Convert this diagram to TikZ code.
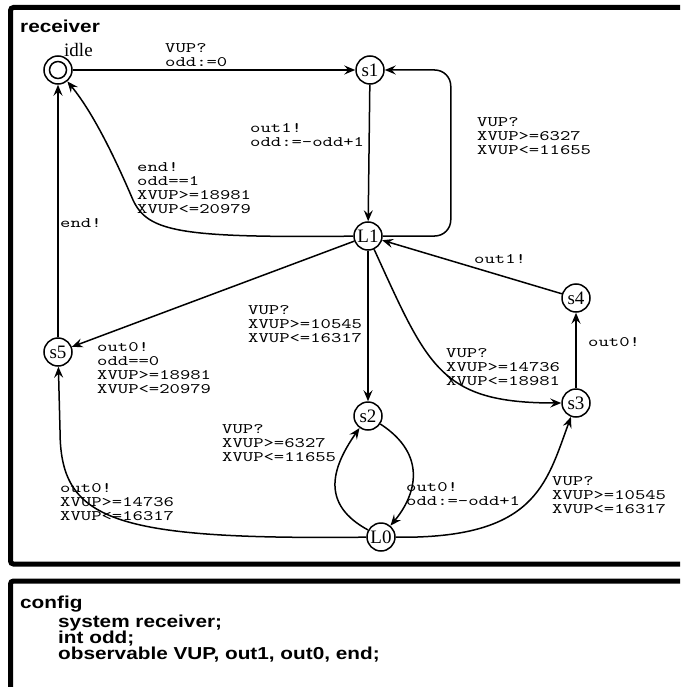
\documentclass[tikz,border=0pt]{standalone}
\usepackage{fontspec}
\usetikzlibrary{arrows.meta}
\newfontfamily\stfont{Liberation Serif}
\newfontfamily\hdfont[FakeStretch=1.2]{Liberation Sans}
\newfontfamily\lblfont[FakeStretch=1.36]{lmmono10-regular.otf}
\begin{document}
\begin{tikzpicture}[x=1pt,y=-1pt,
 st/.style={circle,draw,line width=1.5pt,minimum size=28pt,inner sep=0pt,font=\stfont\fontsize{19}{19}\selectfont},
 lbl/.style={anchor=north west,inner sep=0pt,align=left,font=\lblfont\fontsize{14.5}{14}\selectfont},
 tr/.style={line width=1.5pt,-{Stealth[length=11pt,width=9pt,inset=4pt]}},
 frame/.style={line width=5pt},
 hd/.style={anchor=base west,inner sep=0pt,font=\hdfont\bfseries\fontsize{17.3}{17.3}\selectfont}]
\useasboundingbox (0,0) rectangle (680,687);
\begin{scope}
\clip (0,0) rectangle (680,687);
\draw[frame, rounded corners=3pt] (700,7.5) -- (10.5,7.5) -- (10.5,564) -- (700,564);
\draw[frame, rounded corners=3pt] (700,581) -- (10.5,581) -- (10.5,700);
\end{scope}
\node[hd] (rt) at (20,33) {receiver};
% states
\node[st] (idle) at (58,70) {};
\draw[line width=1.5pt] (idle.center) circle (8.5pt);
\node[anchor=base west,inner sep=0pt,font=\stfont\fontsize{19}{19}\selectfont] (idlelbl) at (64,57) {idle};
\node[st] (s1) at (370,70) {s1};
\node[st] (L1) at (368,236) {L1};
\node[st] (s4) at (576,298) {s4};
\node[st] (s3) at (576,403) {s3};
\node[st] (s2) at (368,416) {s2};
\node[st] (L0) at (381,537) {L0};
\node[st] (s5) at (58,352) {s5};
% transitions
\draw[tr] (idle) -- (s1);
\draw[tr] (s1) -- (L1);
\draw[tr, rounded corners=16pt] (L1.east) -- ++(68,0) |- (s1.east);
\draw[tr] (L1) .. controls (180,238) and (148,232) .. (133,200) .. controls (118,165) and (95,115) .. (idle);
\draw[tr] (s5) -- (idle);
\draw[tr] (L1) -- (s5);
\draw[tr] (L1) -- (s2);
\draw[tr] (L1) .. controls (428,367) and (440,403) .. (s3);
\draw[tr] (s3) -- (s4);
\draw[tr] (s4) -- (L1);
\draw[tr] (L0) .. controls (322,505) and (330,470) .. (s2);
\draw[tr] (s2) .. controls (428,455) and (416,495) .. (L0);
\draw[tr] (L0) .. controls (535,539) and (546,485) .. (s3);
\draw[tr] (L0) .. controls (110,540) and (60,520) .. (60,430) -- (s5);
% labels
\node[lbl] (t1) at (165,43) {VUP?\\odd:=0};
\node[lbl] (t2) at (250,123) {out1!\\odd:=-odd+1};
\node[lbl] (t3) at (477,117) {VUP?\\XVUP>=6327\\XVUP<=11655};
\node[lbl] (t4) at (137,162) {end!\\odd==1\\XVUP>=18981\\XVUP<=20979};
\node[lbl] (t5) at (60,218) {end!};
\node[lbl] (t6) at (97,342) {out0!\\odd==0\\XVUP>=18981\\XVUP<=20979};
\node[lbl] (t7) at (248,305) {VUP?\\XVUP>=10545\\XVUP<=16317};
\node[lbl] (t8) at (446,348) {VUP?\\XVUP>=14736\\XVUP<=18981};
\node[lbl] (t9) at (588,337) {out0!};
\node[lbl] (t10) at (474,254) {out1!};
\node[lbl] (t11) at (222,424) {VUP?\\XVUP>=6327\\XVUP<=11655};
\node[lbl] (t12) at (406,482) {out0!\\odd:=-odd+1};
\node[lbl] (t13) at (552,476) {VUP?\\XVUP>=10545\\XVUP<=16317};
\node[lbl] (t14) at (60,483) {out0!\\XVUP>=14736\\XVUP<=16317};
% config
\node[hd] (ct) at (20,608) {config};
\node[hd] (c1) at (58,627) {system receiver;};
\node[hd] (c2) at (58,643) {int odd;};
\node[hd] (c3) at (58,659) {observable VUP, out1, out0, end;};
\end{tikzpicture}
\end{document}
